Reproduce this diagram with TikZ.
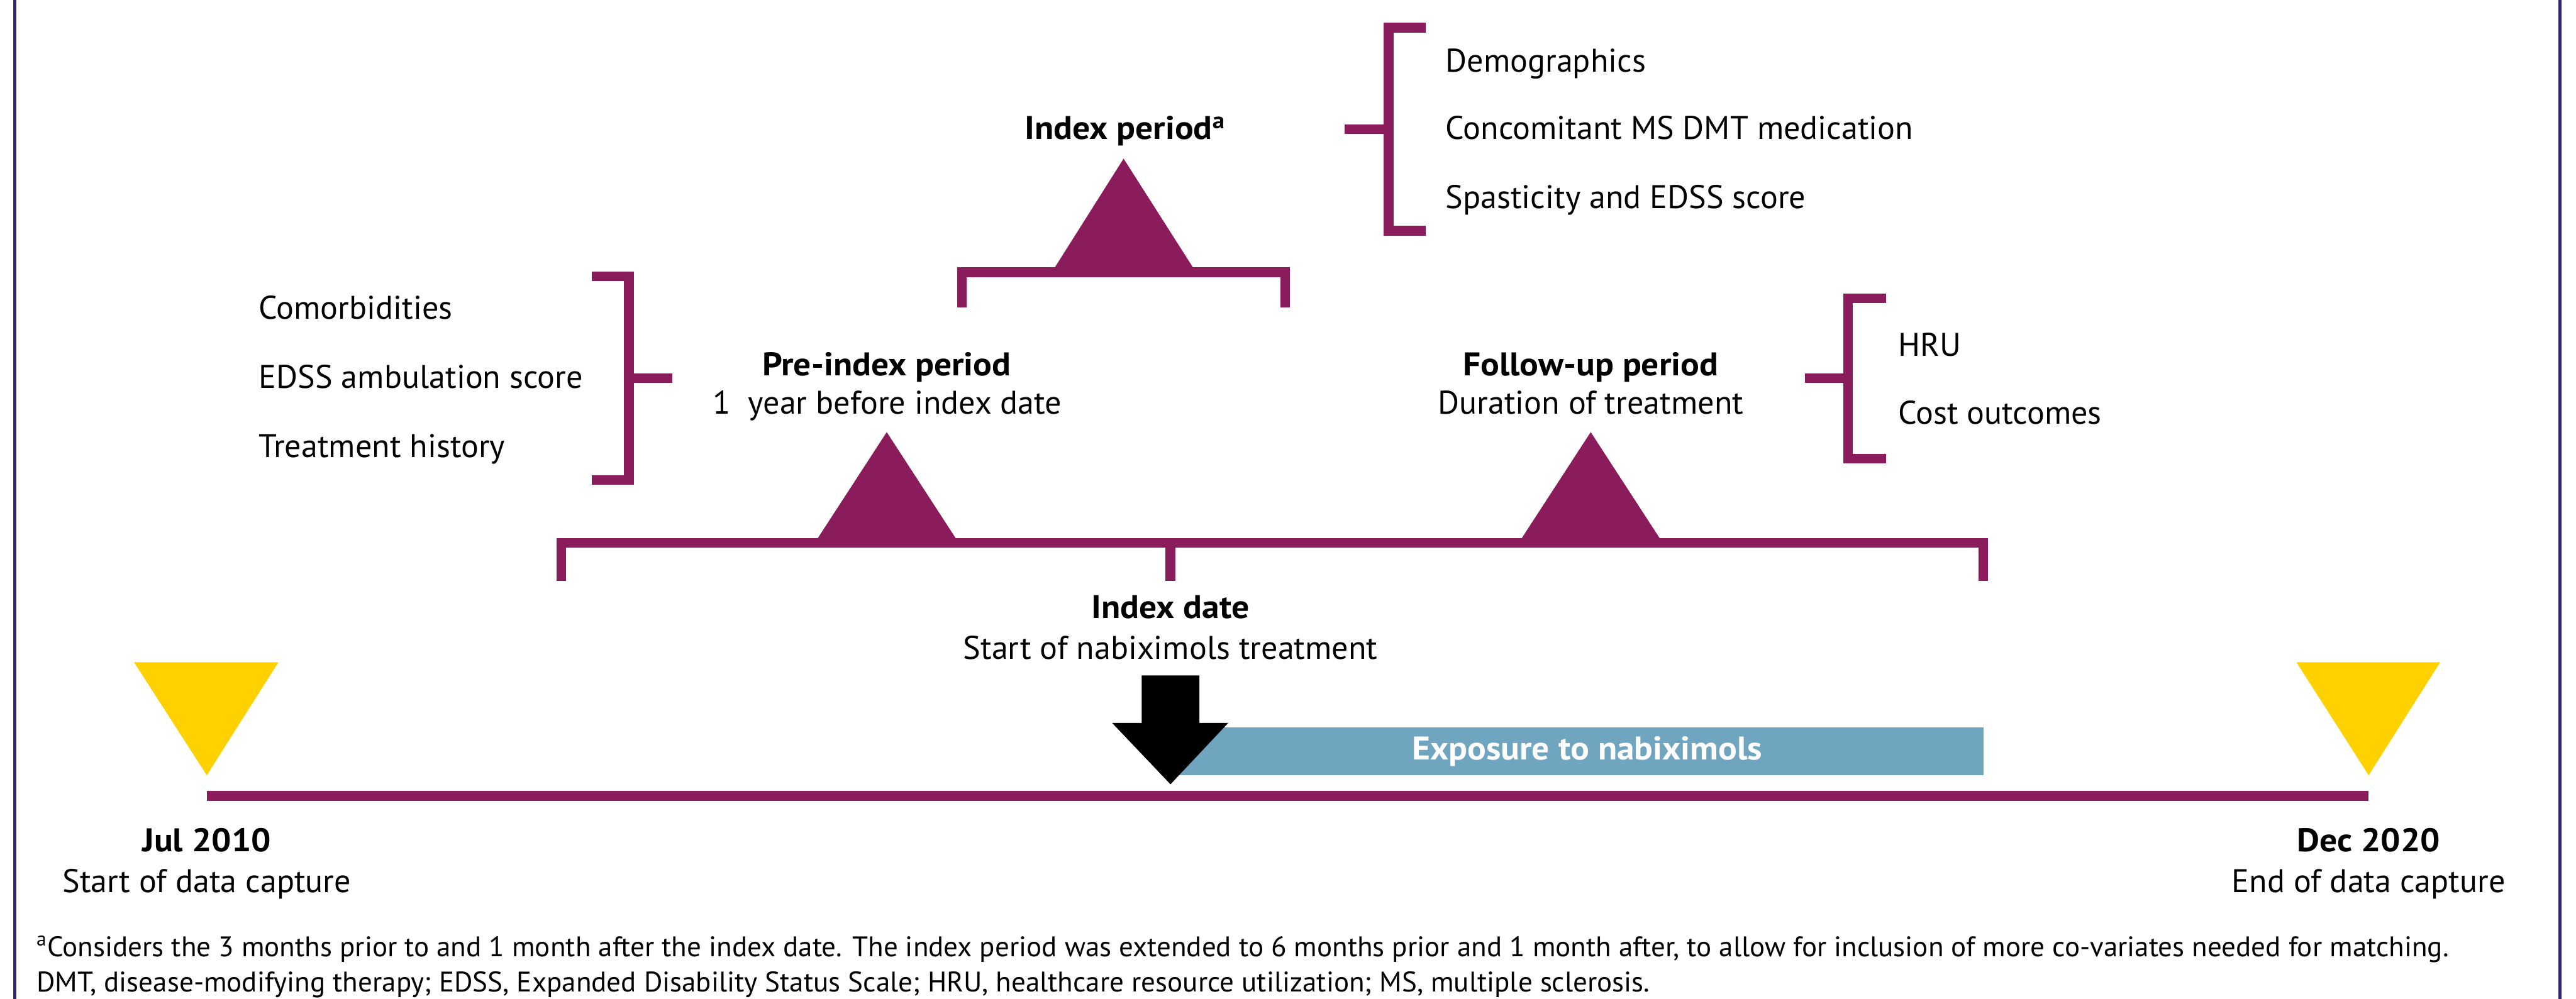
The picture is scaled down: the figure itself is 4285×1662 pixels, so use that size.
\documentclass[tikz,border=0pt]{standalone}
\usepackage{fontspec}
\setmainfont{PT Sans}[BoldFeatures={FakeStretch=1.065}]
\definecolor{pur}{RGB}{139,28,92}
\definecolor{ylw}{RGB}{255,209,0}
\definecolor{blu}{RGB}{111,165,190}
\definecolor{navy}{RGB}{46,42,110}
\begin{document}
\begin{tikzpicture}[x=0.01cm,y=-0.01cm,
  txt/.style={font=\fontsize{15.5}{18}\selectfont, inner sep=0pt, text=black},
  btxt/.style={font=\fontsize{15.5}{18}\selectfont\bfseries, inner sep=0pt, text=black},
  foot/.style={font=\fontsize{13.4}{16}\selectfont, inner sep=0pt, text=black},
  brk/.style={draw=pur, line width=0.16cm, line join=miter},
  ptri/.style={fill=pur},
  ytri/.style={fill=ylw},
  frame/.style={draw=navy, line width=0.05cm}]
\useasboundingbox (0,0) rectangle (4285,1662);
% frame
\draw[frame] (24.5,0) -- (24.5,1662);
\draw[frame] (4258.5,0) -- (4258.5,1662);

% pre-index bracket
\draw[brk] (984,460) -- (1046,460) -- (1046,799) -- (984,799);
\draw[brk] (1046,629) -- (1118,629);
% index period bracket
\draw[brk] (2372,46) -- (2310,46) -- (2310,384) -- (2372,384);
\draw[brk] (2237,215) -- (2310,215);
% follow-up bracket
\draw[brk] (3137,496.5) -- (3074,496.5) -- (3074,763) -- (3137,763);
\draw[brk] (3002,629) -- (3074,629);
% index-period cap
\draw[brk] (1600,512) -- (1600,453) -- (2138,453) -- (2138,512);
% main bracket
\draw[brk] (934,967) -- (934,903) -- (3299,903) -- (3299,967);
\draw[brk] (1947,903) -- (1947,967);

% purple triangles
\fill[ptri] (1754,446) -- (1869,264) -- (1985,446) -- cycle;
\fill[ptri] (1360,896) -- (1475,719) -- (1590,896) -- cycle;
\fill[ptri] (2531,896) -- (2646,719) -- (2761,896) -- cycle;

% yellow triangles
\fill[ytri] (223,1102) -- (463,1102) -- (344,1290) -- cycle;
\fill[ytri] (3820,1102) -- (4059,1102) -- (3940,1290) -- cycle;

% timeline
\draw[pur, line width=0.16cm] (344,1324.5) -- (3940,1324.5);

% exposure bar and arrow
\fill[blu] (1947,1210) rectangle (3299,1290);
\fill[black] (1899,1124) -- (1995,1124) -- (1995,1203) -- (2043,1203) -- (1947,1305) -- (1850,1203) -- (1899,1203) -- cycle;

% texts
\node[txt, anchor=base west] (com) at (430,531) {Comorbidities};
\node[txt, anchor=base west] (edss) at (430,646) {EDSS ambulation score};
\node[txt, anchor=base west] (trt) at (430,761) {Treatment history};
\node[btxt, anchor=base] (pre) at (1475,625) {Pre-index period};
\node[txt, anchor=base] (pre2) at (1476,689) {1\ \ year before index date};
\node[btxt, anchor=base west] (idx) at (1704,232) {Index period\textsuperscript{a}};
\node[txt, anchor=base west] (demo) at (2404,120) {Demographics};
\node[txt, anchor=base west] (conc) at (2404,232) {Concomitant MS DMT medication};
\node[txt, anchor=base west] (spas) at (2404,347) {Spasticity and EDSS score};
\node[btxt, anchor=base] (fu) at (2646,625) {Follow-up period};
\node[txt, anchor=base] (fu2) at (2646,689) {Duration of treatment};
\node[txt, anchor=base west] (hru) at (3157,593) {HRU};
\node[txt, anchor=base west] (cost) at (3157,706) {Cost outcomes};
\node[btxt, anchor=base] (idate) at (1947,1029) {Index date};
\node[txt, anchor=base] (idate2) at (1947,1097) {Start of nabiximols treatment};
\node[btxt, text=white, anchor=base] (exp) at (2640,1264) {Exposure to nabiximols};
\node[btxt, anchor=base] (jul) at (344,1417) {Jul 2010};
\node[txt, anchor=base] (jul2) at (344,1485) {Start of data capture};
\node[btxt, anchor=base] (dec) at (3940,1417) {Dec 2020};
\node[txt, anchor=base] (dec2) at (3940,1485) {End of data capture};
\node[foot, anchor=base west] (fn1) at (60,1592) {\textsuperscript{a}Considers the 3 months prior to and 1 month after the index date. The index period was extended to 6 months prior and 1 month after, to allow for inclusion of more co-variates needed for matching.};
\node[foot, anchor=base west] (fn2) at (60,1650) {DMT, disease-modifying therapy; EDSS, Expanded Disability Status Scale; HRU, healthcare resource utilization; MS, multiple sclerosis.};
\end{tikzpicture}
\end{document}
